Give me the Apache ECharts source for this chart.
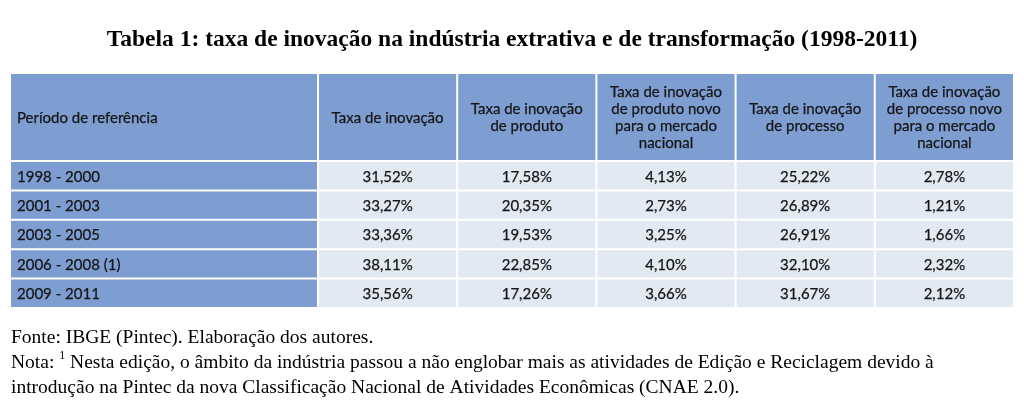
<!DOCTYPE html>
<html><head><meta charset="utf-8">
<script src="https://cdn.jsdelivr.net/npm/echarts@6/dist/echarts.min.js"></script>
<style>html,body{margin:0;padding:0;background:#fff}#c{width:1024px;height:409px}</style>
</head><body><div id="c"></div>
<script>
const titleText = 'Tabela 1: taxa de inovação na indústria extrativa e de transformação (1998-2011)';
const firstHeader = 'Período de referência';
const colHeaders = [
  'Taxa de inovação',
  'Taxa de inovação\nde produto',
  'Taxa de inovação\nde produto novo\npara o mercado\nnacional',
  'Taxa de inovação\nde processo',
  'Taxa de inovação\nde processo novo\npara o mercado\nnacional'
];
const periods = ['1998 - 2000', '2001 - 2003', '2003 - 2005', '2006 - 2008 (1)', '2009 - 2011'];
const taxaInovacao = [31.52, 33.27, 33.36, 38.11, 35.56];
const taxaProduto = [17.58, 20.35, 19.53, 22.85, 17.26];
const taxaProdutoNovo = [4.13, 2.73, 3.25, 4.10, 3.66];
const taxaProcesso = [25.22, 26.89, 26.91, 32.10, 31.67];
const taxaProcessoNovo = [2.78, 1.21, 1.66, 2.32, 2.12];
const columns = [taxaInovacao, taxaProduto, taxaProdutoNovo, taxaProcesso, taxaProcessoNovo];
const fonte = 'Fonte: IBGE (Pintec). Elaboração dos autores.';
const notaA = 'Nota: ';
const notaSup = '1';
const notaB = ' Nesta edição, o âmbito da indústria passou a não englobar mais as atividades de Edição e Reciclagem devido à';
const notaC = 'introdução na Pintec da nova Classificação Nacional de Atividades Econômicas (CNAE 2.0).';

const BLUE = '#7e9ed2';
const LIGHT = '#e3e9f3';
const TXT = '#151515';
const FONT = '15px Lato';

function fmt(v) { return v.toFixed(2).replace('.', ',') + '%'; }

function makeRender(fill, align) {
  return function (params, api) {
    const c = api.coord([api.value(0), api.value(1)]);
    const s = api.size([1, 1]);
    const x0 = c[0] - s[0] / 2 + 1, y0 = c[1] - s[1] / 2 + 1;
    const w = s[0] - 2, h = s[1] - 2;
    const txt = api.value(2);
    return {
      type: 'group',
      children: [
        { type: 'rect', shape: { x: x0, y: y0, width: w, height: h }, style: { fill: fill } },
        { type: 'text', style: {
            text: String(txt),
            x: align === 'left' ? x0 + 6 : x0 + w / 2,
            y: y0 + h / 2 + 1,
            align: align, verticalAlign: 'middle',
            font: FONT, fill: TXT, lineHeight: 17,
            stroke: TXT, lineWidth: 0.25
        } }
      ]
    };
  };
}

const headerFirstData = [[0, 0, firstHeader]];
const headerRestData = colHeaders.map((h, i) => [i, 0, h]);
const bodyFirstData = periods.map((p, j) => [0, j, p]);
const bodyRestData = [];
columns.forEach((col, i) => col.forEach((v, j) => bodyRestData.push([i, j, fmt(v)])));

const hidden = { show: false };
function xCat(n) { return { type: 'category', data: Array.from({length: n}, (_, i) => i), axisLine: hidden, axisTick: hidden, axisLabel: hidden, splitLine: hidden }; }
function yCat(n) { return { type: 'category', inverse: true, data: Array.from({length: n}, (_, i) => i), axisLine: hidden, axisTick: hidden, axisLabel: hidden, splitLine: hidden }; }

const chart = echarts.init(document.getElementById('c'), null, { renderer: 'canvas' });
chart.setOption({
  backgroundColor: '#ffffff',
  animation: false,
  title: [
    { text: titleText, left: 'center', top: 23,
      textStyle: { fontFamily: 'Liberation Serif', fontWeight: 'bold', fontSize: 23.5, color: '#000' } },
    { text: fonte + '\n{n|' + notaA + '}{s|' + notaSup + '}{n|' + notaB + '}\n' + notaC,
      left: 6, top: 320,
      textStyle: { fontFamily: 'Liberation Serif', fontWeight: 'normal', fontSize: 19.5, color: '#000', lineHeight: 25,
        rich: {
          n: { fontFamily: 'Liberation Serif', fontSize: 19.5, color: '#000', lineHeight: 25 },
          s: { fontFamily: 'Liberation Serif', fontSize: 12, color: '#000', lineHeight: 25, verticalAlign: 'top', padding: [0, 0, 8, 0] }
        } } }
  ],
  grid: [
    { left: 10, top: 73, width: 308, height: 88 },
    { left: 318, top: 73, width: 696, height: 88 },
    { left: 10, top: 161, width: 308, height: 147 },
    { left: 318, top: 161, width: 696, height: 147 }
  ],
  xAxis: [
    Object.assign(xCat(1), { gridIndex: 0 }),
    Object.assign(xCat(5), { gridIndex: 1 }),
    Object.assign(xCat(1), { gridIndex: 2 }),
    Object.assign(xCat(5), { gridIndex: 3 })
  ],
  yAxis: [
    Object.assign(yCat(1), { gridIndex: 0 }),
    Object.assign(yCat(1), { gridIndex: 1 }),
    Object.assign(yCat(5), { gridIndex: 2 }),
    Object.assign(yCat(5), { gridIndex: 3 })
  ],
  series: [
    { type: 'custom', xAxisIndex: 0, yAxisIndex: 0, data: headerFirstData, renderItem: makeRender(BLUE, 'left') },
    { type: 'custom', xAxisIndex: 1, yAxisIndex: 1, data: headerRestData, renderItem: makeRender(BLUE, 'center') },
    { type: 'custom', xAxisIndex: 2, yAxisIndex: 2, data: bodyFirstData, renderItem: makeRender(BLUE, 'left') },
    { type: 'custom', xAxisIndex: 3, yAxisIndex: 3, data: bodyRestData, renderItem: makeRender(LIGHT, 'center') }
  ]
});
</script>
</body></html>
